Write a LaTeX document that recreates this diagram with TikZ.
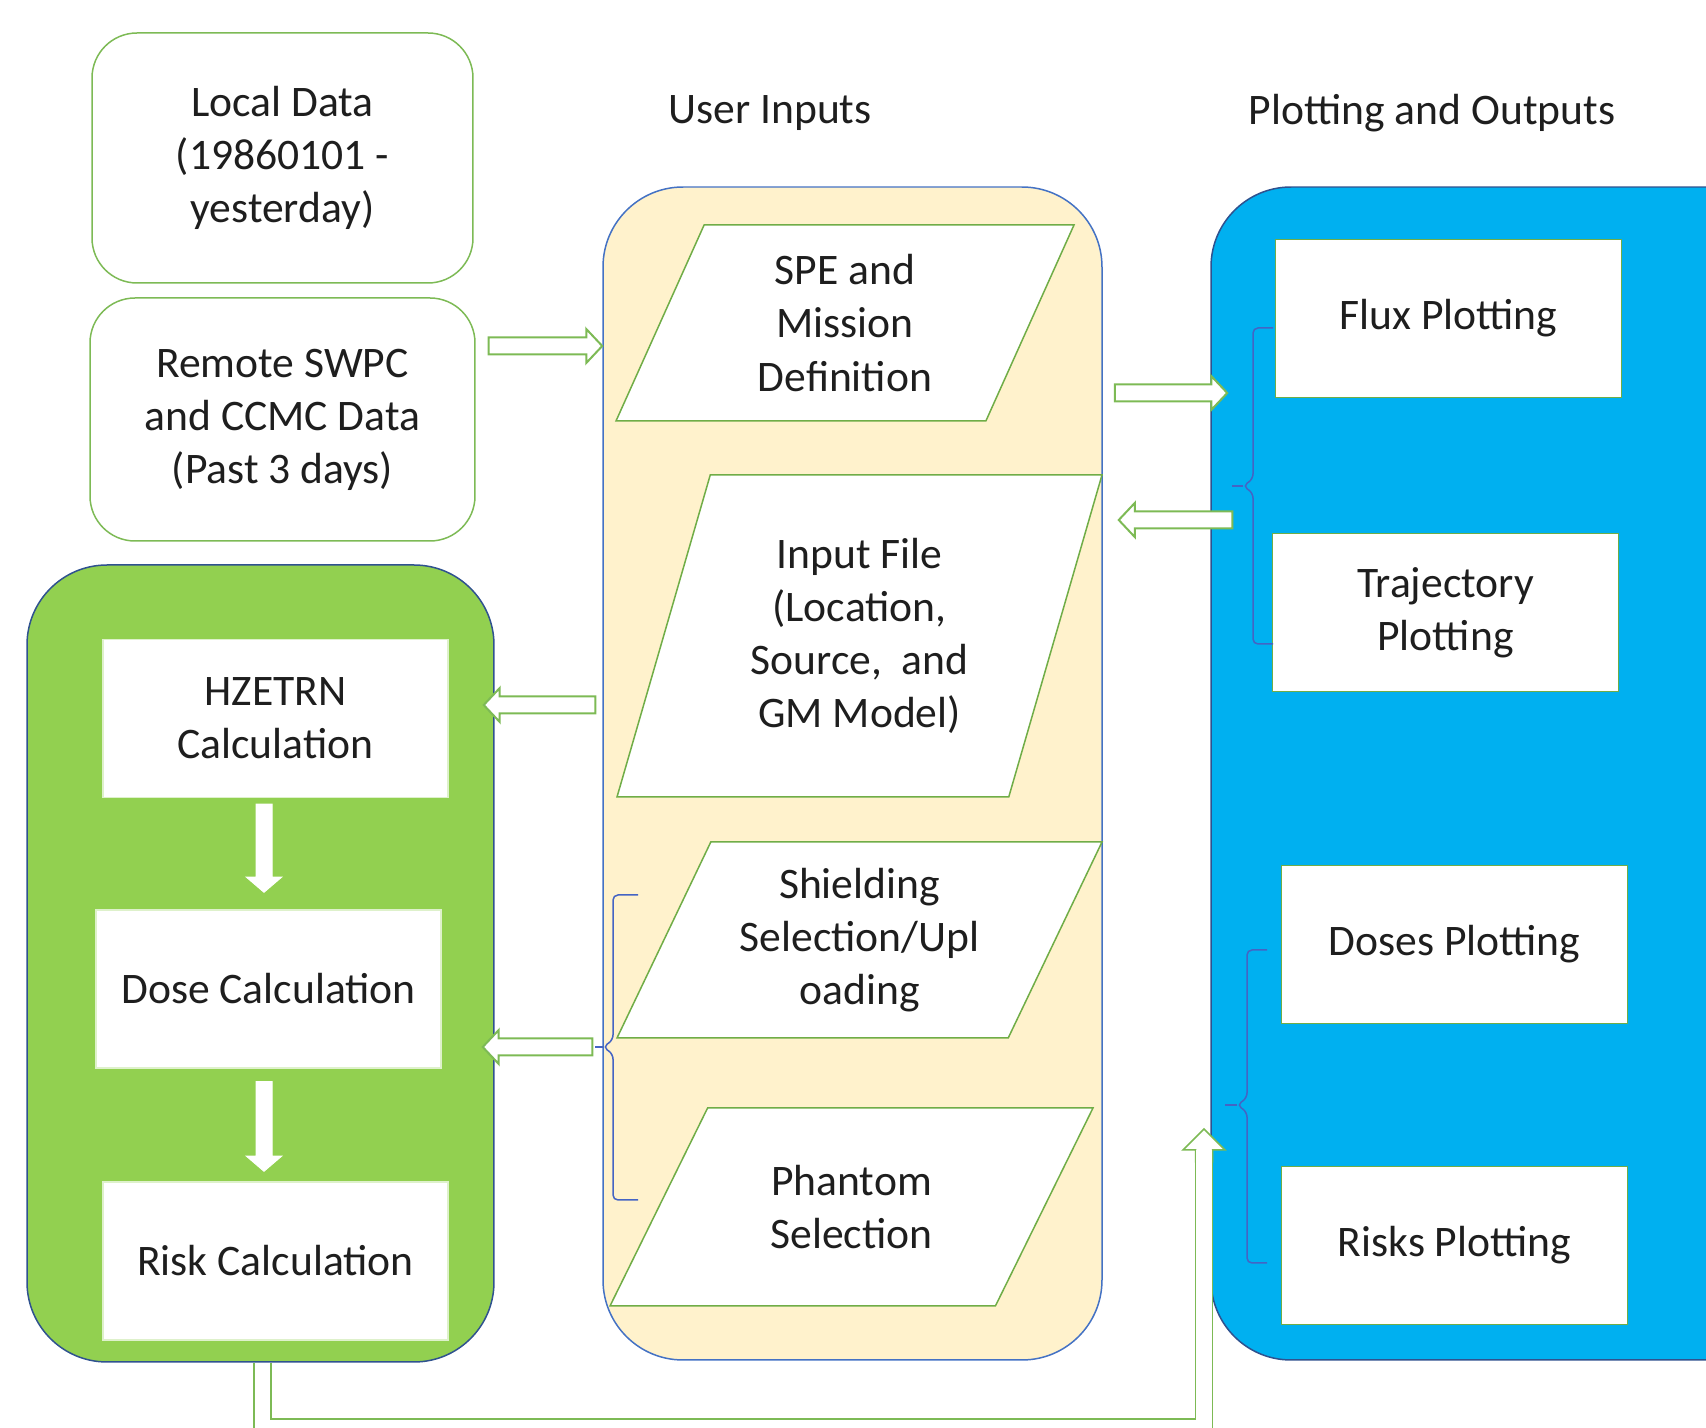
\documentclass[tikz,border=0pt]{standalone}
\usepackage{fontspec}
\setmainfont{Carlito}
\usetikzlibrary{shapes.geometric,calc}

\definecolor{panelgreen}{RGB}{146,208,80}
\definecolor{panelyellow}{RGB}{255,242,204}
\definecolor{panelblue}{RGB}{0,176,240}
\definecolor{edgeblue}{RGB}{47,82,143}
\definecolor{yellowedge}{RGB}{68,114,196}
\definecolor{braceblue}{RGB}{68,100,196}
\definecolor{boxgreen}{RGB}{112,173,71}
\definecolor{arrowgreen}{RGB}{125,186,85}
\definecolor{textgray}{RGB}{30,30,30}

\tikzstyle{panel}=[rectangle, rounded corners=8mm, draw=edgeblue, line width=0.15mm, inner sep=0pt]
\tikzstyle{databox}=[rectangle, rounded corners=4.5mm, draw=arrowgreen, fill=white, line width=0.15mm, align=center, inner sep=0pt]
\tikzstyle{calcbox}=[rectangle, draw=white!70!panelgreen, fill=white, line width=0.15mm, minimum width=34.5mm, minimum height=15.8mm, align=center, inner sep=0pt]
\tikzstyle{plotbox}=[rectangle, draw=boxgreen, fill=white, line width=0.15mm, minimum width=34.6mm, minimum height=15.8mm, align=center, inner sep=0pt]
\tikzstyle{inputbox}=[trapezium, trapezium stretches body, draw=boxgreen, fill=white, line width=0.15mm, align=center, inner sep=0pt]
\tikzstyle{brace}=[draw=braceblue, line width=0.15mm, rounded corners=0.5mm]

% hollow block arrow: shaft half width, head half width, head length
\tikzset{
  hollow/.style n args={3}{line join=miter,
    to path={let \p1=(\tikztostart), \p2=(\tikztotarget),
      \n1={atan2(\y2-\y1,\x2-\x1)}, \n2={veclen(\x2-\x1,\y2-\y1)} in
      {[shift={(\p1)}, rotate=\n1]
        (0pt,-#1) -- ({\n2-#3},-#1) -- ({\n2-#3},-#2) -- (\n2,0pt)
        -- ({\n2-#3},#2) -- ({\n2-#3},#1) -- (0pt,#1) -- cycle}}},
  blockarrow/.style={hollow={0.85mm}{1.7mm}{1.6mm}, draw=arrowgreen, fill=white, line width=0.2mm},
  downarrow/.style={hollow={0.8mm}{1.75mm}{1.5mm}, draw=white, fill=white, line width=0.1mm}
}

\begin{document}
\begin{tikzpicture}[x=0.1mm, y=-0.1mm, font=\fontsize{12.4}{15.1}\selectfont, text=textgray]
\useasboundingbox (0,0) rectangle (1706,1428);
\clip (0,0) rectangle (1706,1428);

% panels
\node[panel, fill=panelgreen, minimum width=46.7mm, minimum height=79.7mm] (calc) at (260.5,963.5) {};
\node[panel, fill=panelyellow, draw=yellowedge, minimum width=49.9mm, minimum height=117.3mm] (inputs) at (852.5,773.5) {};
\node[panel, fill=panelblue, minimum width=58.9mm, minimum height=117.3mm] (outputs) at (1505.5,773.5) {};

\node (inlabel) at (770,113) {User Inputs};
\node (outlabel) at (1432,113) {Plotting and Outputs};

% data sources
\node[databox, minimum width=38.1mm, minimum height=25mm] (local) at (282.5,158) {Local Data\\(19860101 -\\yesterday)};
\node[databox, minimum width=38.5mm, minimum height=24.3mm] (remote) at (282.5,419.5) {Remote SWPC\\and CCMC Data\\(Past 3 days)};

% calculations
\node[calcbox] (hzetrn) at (275.5,718.5) {HZETRN\\Calculation};
\node[calcbox] (dose) at (268.5,989) {Dose Calculation};
\node[calcbox] (risk) at (275.5,1261) {Risk Calculation};

% user inputs
\node[inputbox, trapezium left angle=57.2, trapezium right angle=122.8, minimum width=45.8mm, minimum height=19.6mm] (spe) at (845,323) {SPE and\\Mission\\Definition};
\node[inputbox, trapezium left angle=64.5, trapezium right angle=115.5, minimum width=48.5mm, minimum height=32.2mm] (infile) at (859.5,636) {Input File\\(Location,\\Source,\ \ and\\GM Model)};
\node[inputbox, trapezium left angle=56.9, trapezium right angle=123.1, minimum width=48.5mm, minimum height=19.6mm] (shield) at (859.5,940) {Shielding\\Selection/Upl\\oading};
\node[inputbox, trapezium left angle=40.6, trapezium right angle=139.4, minimum width=48.3mm, minimum height=19.8mm] (phantom) at (851.5,1207) {Phantom\\Selection};

% plots
\node[plotbox] (flux) at (1448.5,318.5) {Flux Plotting};
\node[plotbox] (traj) at (1445.5,612.5) {Trajectory\\Plotting};
\node[plotbox] (doses) at (1454.5,944.5) {Doses Plotting};
\node[plotbox] (risks) at (1454.5,1245.5) {Risks Plotting};

% braces
\draw[brace] (638,895) -- (613,895) -- (613,1040) -- (603,1047) -- (613,1054) -- (613,1200) -- (638,1200);
\draw[brace] (603,1047) -- (595,1047);
\draw[brace] (1273,328) -- (1253,328) -- (1253,479) -- (1243,486) -- (1253,493) -- (1253,644) -- (1273,644);
\draw[brace] (1243,486) -- (1232,486);
\draw[brace] (1267,950) -- (1247,950) -- (1247,1098) -- (1237,1105) -- (1247,1112) -- (1247,1263) -- (1267,1263);
\draw[brace] (1237,1105) -- (1225,1105);

% block arrows
\coordinate (a1) at ($(remote.east)+(13,-73.5)$);
\coordinate (a2) at ($(inputs.east)+(12,-380.5)$);
\coordinate (a3) at ($(outputs.west)+(22,-253.5)$);
\coordinate (a4) at ($(inputs.west)+(-7,-68.5)$);
\coordinate (a5) at ($(inputs.west)+(-10,273.5)$);
\draw[blockarrow] (a1) to (a1 -| inputs.west);
\draw[blockarrow] (a2) to ($(a2 -| outputs.west)+(17,0)$);
\draw[blockarrow] (a3) to ($(a3 -| inputs.east)+(16,0)$);
\draw[blockarrow] (a4) to ($(a4 -| calc.east)+(-11,0)$);
\draw[blockarrow] (a5) to ($(a5 -| calc.east)+(-12,0)$);

\draw[downarrow] ($(hzetrn.south)+(-11.5,6)$) to ($(dose.north)+(-4.5,-17)$);
\draw[downarrow] ($(dose.south)+(-4.5,13)$) to ($(risk.north)+(-11.5,-10)$);

% risk results to plotting
\coordinate (b0) at ($(risk.south |- calc.south)+(-13,0)$);
\coordinate (b1) at ($(b0)+(0,65)$);
\coordinate (b3) at (1204,1129);
\coordinate (b2) at ($(b3)+(0,21)$);
\draw[arrowgreen, line width=1.85mm, line join=miter] (b0) -- (b1) -| (b2);
\draw[hollow={0.85mm}{2.1mm}{2.1mm}, draw=arrowgreen, fill=white, line width=0.15mm] ($(b2)+(0,12)$) to (b3);
\draw[white, line width=1.55mm, line join=miter] (b0) -- (b1) -| (b2);
\end{tikzpicture}
\end{document}
